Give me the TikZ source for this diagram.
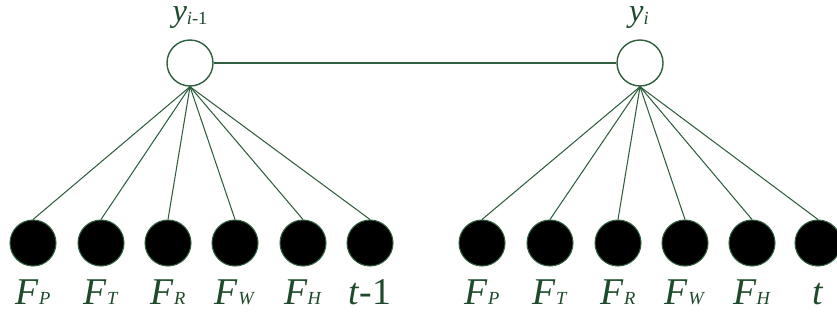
\documentclass[tikz,border=0pt]{standalone}
\usepackage{fontspec}
\setmainfont{Liberation Serif}

\begin{document}
\begin{tikzpicture}[x=0.02cm,y=-0.02cm]
    % Define colours
    \definecolor{lineColour}{HTML}{2F5F3F}
    \definecolor{textColour}{HTML}{1E4A2C}

    % Macros for the rows and the node size
    \def\topRow{63} % y of the hidden states
    \def\bottomRow{243} % y of the observed features
    \def\textRow{304} % baseline of the feature labels

    % Styles
    \tikzset{
        hiddenNode/.style={circle, draw=lineColour, fill=white, line width=0.8pt, minimum size=0.92cm, inner sep=0pt},
        featNode/.style={circle, draw=lineColour, fill=black, line width=0.6pt, minimum size=0.92cm, inner sep=0pt},
        varText/.style={anchor=base, text=textColour, inner sep=0pt, font=\fontsize{21.5}{23}\selectfont},
        stateText/.style={anchor=base, text=textColour, inner sep=0pt, text height=7pt, font=\fontsize{18.5}{20}\selectfont},
        edge/.style={draw=lineColour, line width=0.6pt}
    }
    \newcommand{\feat}[1]{\textit{F}{\fontsize{10.5}{11}\selectfont\textit{#1}}}

    \useasboundingbox (0,0) rectangle (837,322);

    % Hidden states
    \node[hiddenNode] (yPrev) at (190,\topRow) {};
    \node[hiddenNode] (yCur) at (640,\topRow) {};
    \node[stateText] (yPrevText) at (190,21) {\textit{y}\raisebox{-2pt}{\fontsize{10.5}{12}\selectfont\textit{i}-1}};
    \node[stateText] (yCurText) at (639,21) {\textit{y}\raisebox{-2pt}{\fontsize{10.5}{12}\selectfont\textit{i}}};

    % Link between the hidden states
    \draw[edge] (yPrev.east) -- (yCur.west);

    % Features at step i-1
    \foreach \x/\txt [count=\i] in {33/{\feat{P}}, 101/{\feat{T}}, 168/{\feat{R}}, 235/{\feat{W}}, 303/{\feat{H}}, 370/{\textit{t}-1}} {
        \node[featNode] (fPrev\i) at (\x,\bottomRow) {};
        \node[varText] (fPrevText\i) at (\x,\textRow) {\txt};
        \draw[edge] (yPrev.south) -- (fPrev\i.north);
    }

    % Features at step i
    \foreach \x/\txt [count=\i] in {482/{\feat{P}}, 550/{\feat{T}}, 618/{\feat{R}}, 685/{\feat{W}}, 752/{\feat{H}}, 818/{\textit{t}}} {
        \node[featNode] (fCur\i) at (\x,\bottomRow) {};
        \node[varText] (fCurText\i) at (\x,\textRow) {\txt};
        \draw[edge] (yCur.south) -- (fCur\i.north);
    }

\end{tikzpicture}
\end{document}
